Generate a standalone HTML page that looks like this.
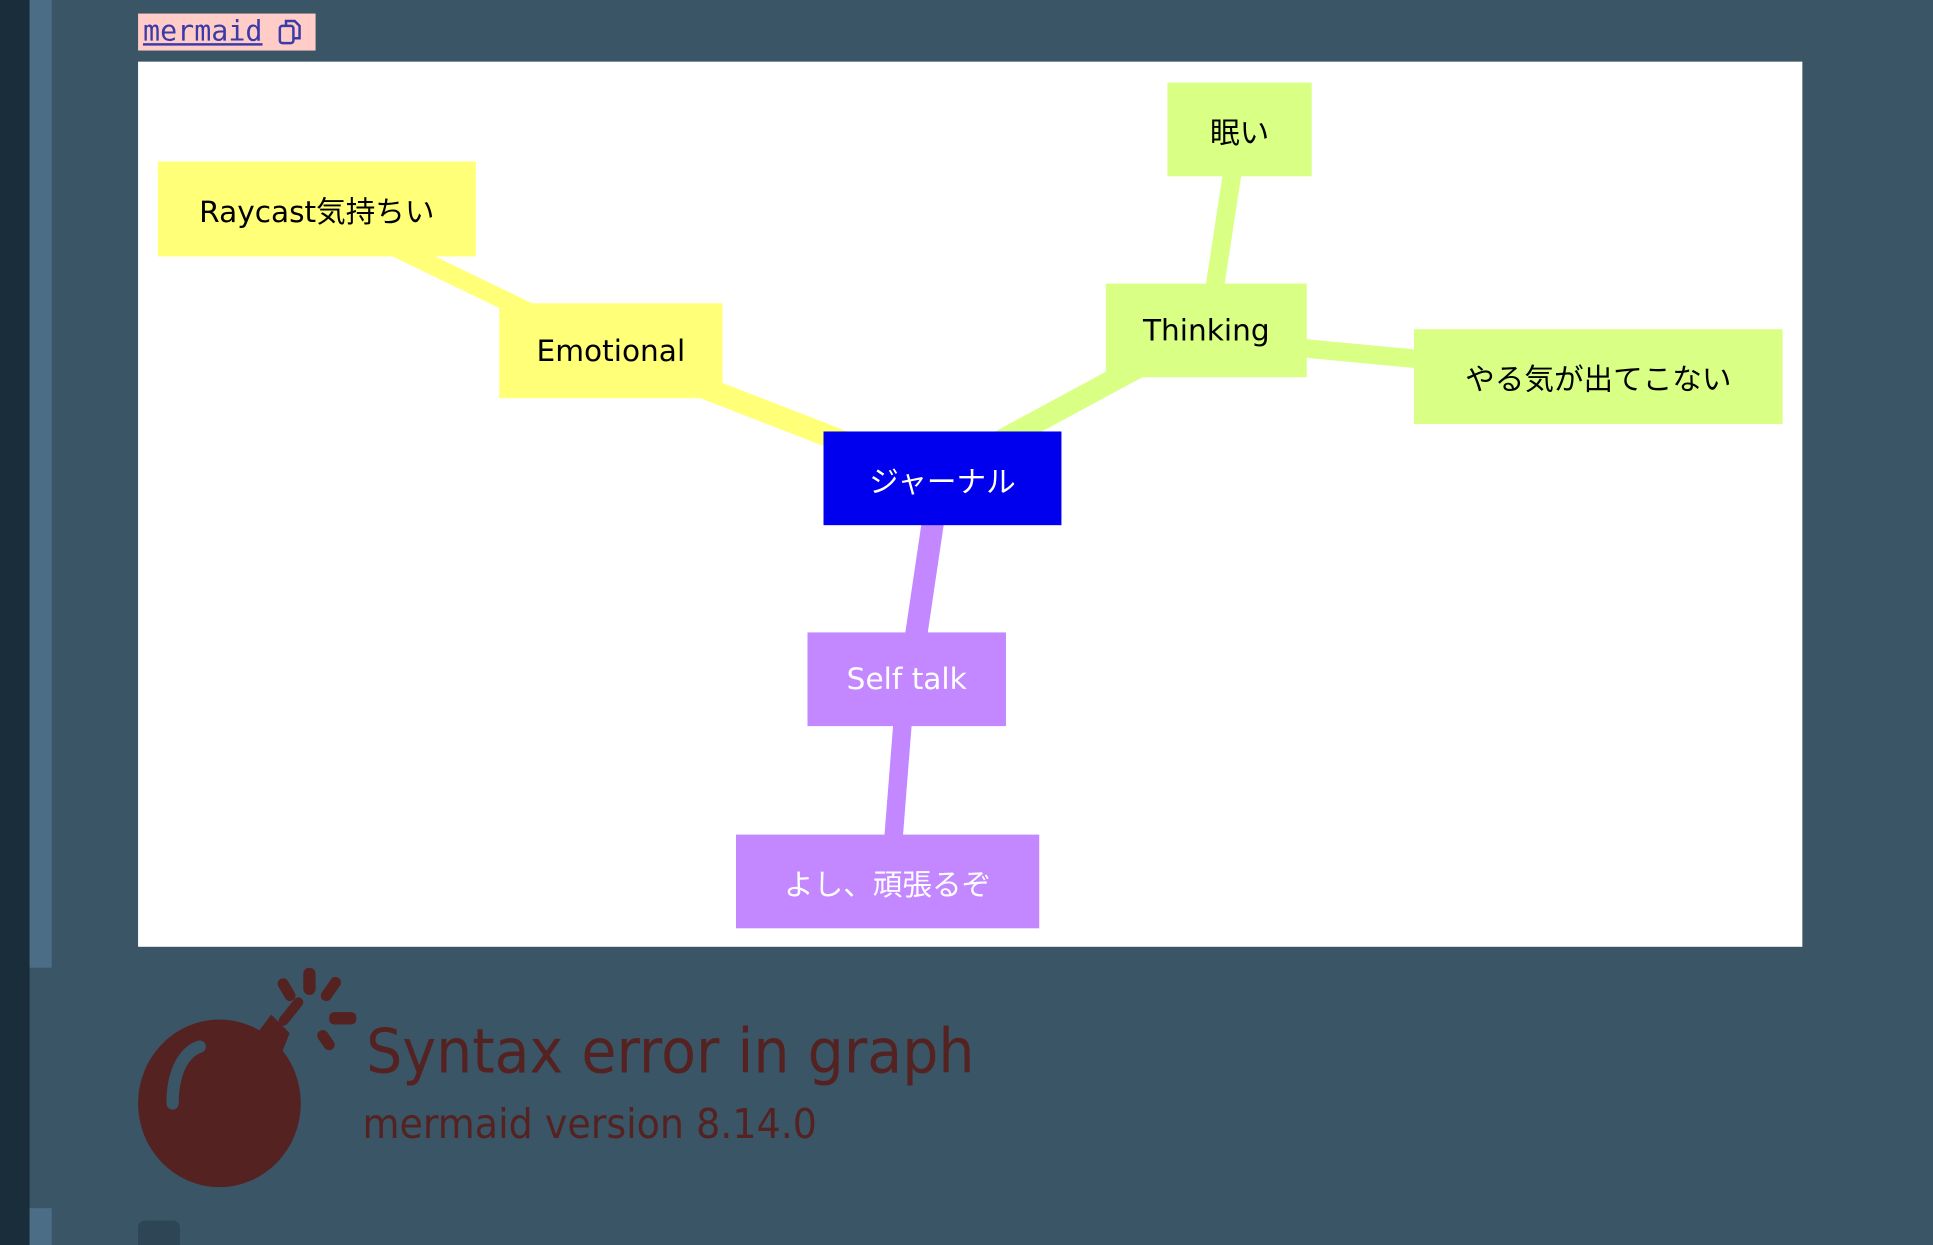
<!DOCTYPE html>
<html><head><meta charset="utf-8"><style>
html,body{margin:0;padding:0;width:1933px;height:1245px;overflow:hidden;background:#3a5566;}
#s{position:absolute;left:0;top:0;width:1568px;height:1010px;transform:scale(1.2328);transform-origin:0 0;font-family:"DejaVu Sans","Noto Sans CJK JP",sans-serif;}
.a{position:absolute}
.n{position:absolute;display:flex;align-items:center;justify-content:center;font-size:24px;color:#000}
.y{background:#ffff78}.g{background:#d9ff85}.p{background:#c388ff;color:#fff}
</style></head><body><div id="s">
<div class="a" style="left:0;top:0;width:24px;height:1010px;background:#1a2d3b"></div>
<div class="a" style="left:24px;top:0;width:18px;height:785px;background:#4b6d85"></div>
<div class="a" style="left:24px;top:980px;width:18px;height:30px;background:#4b6d85"></div>
<div class="a" style="left:112px;top:11px;width:144px;height:30px;background:#ffccc7"></div>
<div class="a" style="left:116px;top:11px;font-family:'DejaVu Sans Mono','Liberation Mono',monospace;font-size:23px;color:#3a3aa8;text-decoration:underline;line-height:30px">mermaid</div>
<svg class="a" style="left:224px;top:14px" width="24" height="24" viewBox="0 0 24 24"><rect x="3" y="7" width="11" height="14" rx="2" fill="none" stroke="#3a3aa8" stroke-width="2"/><path d="M8 7V3h7l4 4v10h-5" fill="none" stroke="#3a3aa8" stroke-width="2"/></svg>
<div class="a" style="left:112px;top:50px;width:1350px;height:718px;background:#fff"></div>
<svg class="a" style="left:0;top:0" width="1568" height="1010">
<g stroke-linecap="butt">
<line x1="495" y1="285" x2="740" y2="380" stroke="#ffff78" stroke-width="18"/>
<line x1="257" y1="170" x2="495" y2="285" stroke="#ffff78" stroke-width="15"/>
<line x1="978" y1="268" x2="780" y2="375" stroke="#d9ff85" stroke-width="18"/>
<line x1="1005" y1="105" x2="980" y2="268" stroke="#d9ff85" stroke-width="15"/>
<line x1="978" y1="275" x2="1296" y2="305" stroke="#d9ff85" stroke-width="15"/>
<line x1="762" y1="388" x2="738" y2="550" stroke="#c388ff" stroke-width="18"/>
<line x1="735" y1="550" x2="722" y2="715" stroke="#c388ff" stroke-width="15"/>
</g></svg>
<div class="n y" style="left:128px;top:131px;width:258px;height:77px">Raycast気持ちい</div>
<div class="n y" style="left:405px;top:246px;width:181px;height:77px">Emotional</div>
<div class="n" style="left:668px;top:350px;width:193px;height:76px;background:#0000ee;color:#fff">ジャーナル</div>
<div class="n g" style="left:897px;top:230px;width:163px;height:76px">Thinking</div>
<div class="n g" style="left:947px;top:67px;width:117px;height:76px">眠い</div>
<div class="n g" style="left:1147px;top:267px;width:299px;height:77px">やる気が出てこない</div>
<div class="n p" style="left:655px;top:513px;width:161px;height:76px">Self talk</div>
<div class="n p" style="left:597px;top:677px;width:246px;height:76px">よし、頑張るぞ</div>
<svg class="a" style="left:110px;top:783px" width="185" height="185" viewBox="0 0 185 185">
<g fill="#552222">
<ellipse cx="68" cy="112" rx="66" ry="68"/>
<path d="M95 60 L110 40 L125 55 L115 80 Z"/>
<rect x="136" y="2" width="10" height="22" rx="5"/>
<rect x="118" y="10" width="9" height="20" rx="4.5" transform="rotate(-30 122 20)"/>
<rect x="154" y="8" width="9" height="22" rx="4.5" transform="rotate(35 158 19)"/>
<rect x="157" y="38" width="22" height="10" rx="4"/>
<rect x="150" y="52" width="9" height="18" rx="4.5" transform="rotate(-35 154 61)"/>
<path d="M120 45 L132 30" stroke="#552222" stroke-width="8" stroke-linecap="round"/>
</g>
<path d="M30 112 C30 85 40 70 52 66" stroke="#3a5566" stroke-width="10" fill="none" stroke-linecap="round"/>
</svg>
<div class="a" style="left:297px;top:820px;font-size:50px;color:#552222;line-height:66px;transform:scaleX(0.925);transform-origin:0 0;white-space:nowrap">Syntax error in graph</div>
<div class="a" style="left:294px;top:890px;font-size:33px;color:#552222;line-height:44px;transform:scaleX(0.934);transform-origin:0 0;white-space:nowrap">mermaid version 8.14.0</div>
<div class="a" style="left:112px;top:990px;width:34px;height:20px;background:#2e4556;border-radius:6px 6px 0 0"></div>
</div></body></html>
